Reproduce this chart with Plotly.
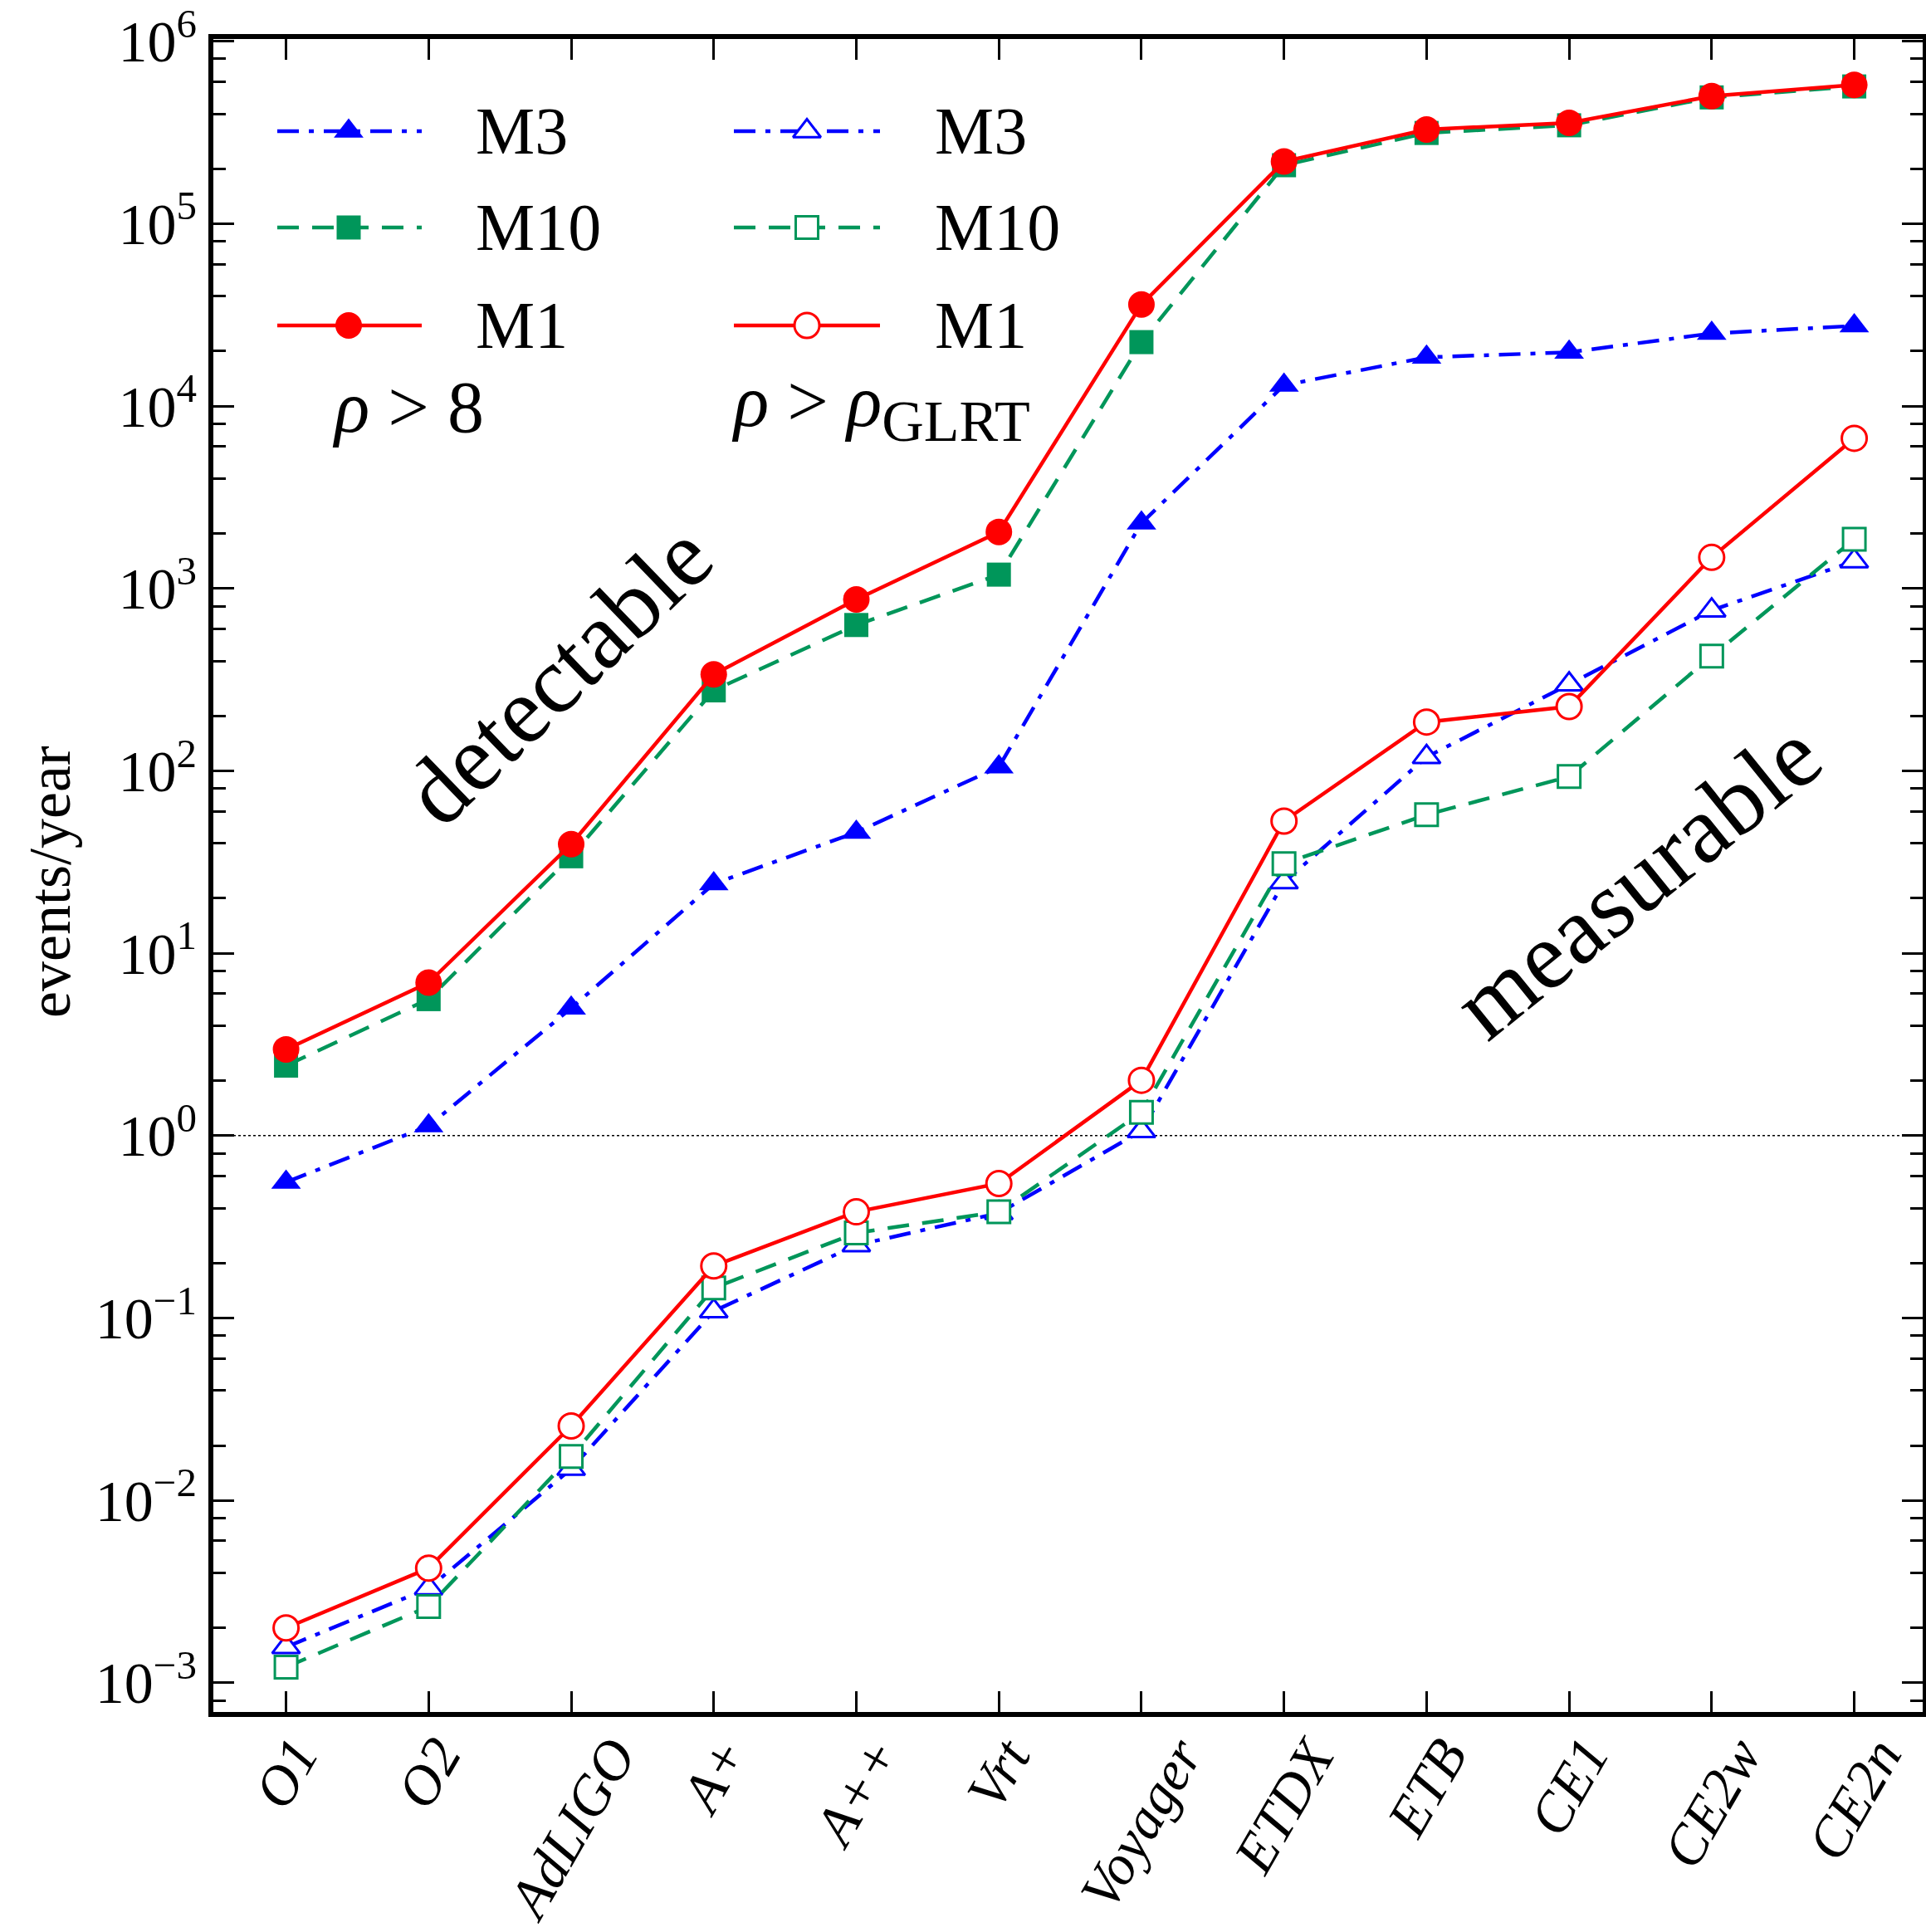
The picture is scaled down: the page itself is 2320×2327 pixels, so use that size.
import plotly.graph_objects as go

# ---------------- data ----------------
categories = ["O1", "O2", "AdLIGO", "A+", "A++", "Vrt", "Voyager",
              "ETDX", "ETB", "CE1", "CE2w", "CE2n"]

# rho > 8 (detectable), filled markers
det_M3 = [0.555, 1.13, 5.0, 24, 46, 105, 2280, 13000, 18500, 19700, 25000, 27500]
det_M10 = [2.42, 5.6, 34, 276, 630, 1190, 22400, 209000, 314000, 346000, 492000, 565000]
det_M1 = [2.97, 6.9, 39.6, 338, 870, 2040, 36000, 219000, 328000, 357000, 500000, 576000]

# rho > rho_GLRT (measurable), open markers
meas_M3 = [0.00157, 0.0033, 0.0149, 0.109, 0.251, 0.376, 1.06, 24.5, 119, 298, 758, 1410]
meas_M10 = [0.00122, 0.00262, 0.0174, 0.146, 0.293, 0.382, 1.34, 31, 57.4, 93, 425, 1860]
meas_M1 = [0.0020, 0.00425, 0.0256, 0.193, 0.382, 0.546, 2.01, 53, 185, 225, 1480, 6650]

ytick_vals = [1e-3, 1e-2, 1e-1, 1e0, 1e1, 1e2, 1e3, 1e4, 1e5, 1e6]
ytick_text = ["10<sup>−3</sup>", "10<sup>−2</sup>", "10<sup>−1</sup>", "10<sup>0</sup>",
              "10<sup>1</sup>", "10<sup>2</sup>", "10<sup>3</sup>", "10<sup>4</sup>",
              "10<sup>5</sup>", "10<sup>6</sup>"]
minor_vals = [m * 10.0 ** d for d in range(-4, 6) for m in (2, 4, 6, 8)]

# ---------------- styles ----------------
W, H = 2320, 2327
ML, MR, MT, MB = 257, 4, 47, 265
PW, PH = W - ML - MR, H - MT - MB
FONT = "'Liberation Serif', 'DejaVu Serif', serif"

BLUE, GREEN, RED = "#0000ff", "#00965a", "#ff0000"
LW = 4.5
DASH_M3 = "26px,12px,6px,12px"
DASH_M10 = "26px,16px"

series = [
    # name, color, dash, symbol, size
    ("M3", BLUE, DASH_M3, "triangle-up", 31),
    ("M10", GREEN, DASH_M10, "square", 29),
    ("M1", RED, "solid", "circle", 32),
]
det_data = [det_M3, det_M10, det_M1]
meas_data = [meas_M3, meas_M10, meas_M1]

x = list(range(len(categories)))

fig = go.Figure()

for (name, col, dash, sym, size), ys in zip(series, det_data):
    fig.add_trace(go.Scatter(
        x=x, y=ys, mode="lines+markers", name=name + " (ρ>8)",
        line=dict(color=col, width=LW, dash=dash),
        marker=dict(symbol=sym, size=size, color=col, line=dict(width=0)),
        showlegend=False))

for (name, col, dash, sym, size), ys in zip(series, meas_data):
    fig.add_trace(go.Scatter(
        x=x, y=ys, mode="lines+markers", name=name + " (ρ>ρGLRT)",
        line=dict(color=col, width=LW, dash=dash),
        marker=dict(symbol=sym, size=size - 2, color="white", line=dict(width=3, color=col)),
        showlegend=False))


# ---------------- hand-made legend on an overlay axis (paper-like coords) ----------------
def px2x(px):
    return (px - ML) / PW


def py2y(py):
    return (H - MB - py) / PH


legend_rows_py = [158, 274, 392]
legend_cols = [
    # line start, line end, marker center, text start (px)
    (334, 508, 420, 571, False),
    (884, 1060, 972, 1124, True),
]
for (lx0, lx1, mx, tx, is_open) in legend_cols:
    for (name, col, dash, sym, size), py in zip(series, legend_rows_py):
        yy = py2y(py)
        fig.add_trace(go.Scatter(
            x=[px2x(lx0), px2x(lx1)], y=[yy, yy], mode="lines",
            line=dict(color=col, width=LW, dash=dash),
            xaxis="x2", yaxis="y2", showlegend=False, hoverinfo="skip"))
        if is_open:
            mk = dict(symbol=sym, size=size - 2, color="white", line=dict(width=3, color=col))
        else:
            mk = dict(symbol=sym, size=size, color=col, line=dict(width=0))
        fig.add_trace(go.Scatter(
            x=[px2x(mx)], y=[yy], mode="markers", marker=mk,
            xaxis="x2", yaxis="y2", showlegend=False, hoverinfo="skip"))

annotations = []
for (lx0, lx1, mx, tx, is_open) in legend_cols:
    for (name, col, dash, sym, size), py in zip(series, legend_rows_py):
        annotations.append(dict(
            x=px2x(tx), y=py2y(py), xref="paper", yref="paper",
            text=name, showarrow=False, xanchor="left", yanchor="middle",
            font=dict(family=FONT, size=80, color="black")))

annotations.append(dict(
    x=px2x(398), y=py2y(490), xref="paper", yref="paper",
    text="<i>ρ</i> > 8", showarrow=False, xanchor="left", yanchor="middle",
    font=dict(family=FONT, size=88, color="black")))
annotations.append(dict(
    x=px2x(879), y=py2y(490), xref="paper", yref="paper",
    text="<i>ρ</i> > <i>ρ</i><sub><span style='font-size:70px'>GLRT</span></sub>",
    showarrow=False, xanchor="left", yanchor="middle",
    font=dict(family=FONT, size=88, color="black")))

annotations.append(dict(
    x=px2x(672), y=py2y(812), xref="paper", yref="paper",
    text="detectable", showarrow=False, textangle=-44,
    xanchor="center", yanchor="middle",
    font=dict(family=FONT, size=114, color="black")))
annotations.append(dict(
    x=px2x(1972), y=py2y(1060), xref="paper", yref="paper",
    text="measurable", showarrow=False, textangle=-39,
    xanchor="center", yanchor="middle",
    font=dict(family=FONT, size=116, color="black")))

annotations.append(dict(
    x=px2x(60), y=py2y(1062), xref="paper", yref="paper",
    text="events/year", showarrow=False, textangle=-90,
    xanchor="center", yanchor="middle",
    font=dict(family=FONT, size=72, color="black")))

# x tick labels: rotated, bounding box centred under each tick (matplotlib style)
for xi, cat in zip(x, categories):
    annotations.append(dict(
        x=xi, xref="x", y=py2y(2078), yref="paper",
        text=cat, showarrow=False, textangle=-60,
        xanchor="center", yanchor="top",
        font=dict(family=FONT, size=68, color="black", style="italic")))

fig.update_layout(
    width=W, height=H,
    margin=dict(l=ML, r=MR, t=MT, b=MB, pad=0, autoexpand=False),
    paper_bgcolor="white", plot_bgcolor="white",
    font=dict(family=FONT, color="black"),
    showlegend=False,
    annotations=annotations,
    shapes=[dict(type="line", xref="paper", x0=0, x1=1, yref="y", y0=1, y1=1,
                 line=dict(color="black", width=1.5, dash="dot"), layer="below")],
    xaxis=dict(
        range=[-0.51, 11.48], tickmode="array", tickvals=x, ticktext=categories,
        showticklabels=False,
        ticks="inside", ticklen=25, tickwidth=3, tickcolor="black",
        showline=True, linewidth=6, linecolor="black", mirror="allticks",
        showgrid=False, zeroline=False, automargin=False,
    ),
    yaxis=dict(
        type="log", range=[-3.16, 6.012], tickmode="array", tickvals=ytick_vals,
        ticktext=ytick_text, ticks="inside", ticklen=25, tickwidth=3, tickcolor="black",
        showline=True, linewidth=6, linecolor="black", mirror="allticks",
        showgrid=False, zeroline=False, automargin=False,
        tickfont=dict(family=FONT, size=70, color="black"),
        minor=dict(tickmode="array", tickvals=minor_vals, ticks="inside",
                   ticklen=15, tickwidth=3, tickcolor="black", showgrid=False),
    ),
    xaxis2=dict(range=[0, 1], overlaying="x", anchor="y2", visible=False,
                fixedrange=True, automargin=False),
    yaxis2=dict(range=[0, 1], overlaying="y", anchor="x2", visible=False,
                fixedrange=True, automargin=False),
)

fig.write_html("out.html")
